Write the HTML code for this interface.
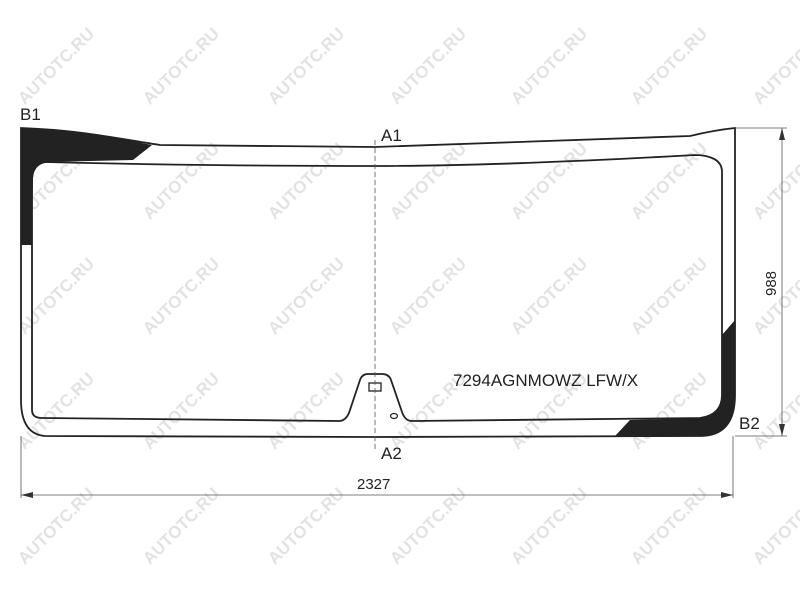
<!DOCTYPE html>
<html><head><style>body{margin:0;background:#fff}svg{display:block}</style></head><body>
<svg width="800" height="600" xmlns="http://www.w3.org/2000/svg" font-family="Liberation Sans, sans-serif">
<g fill="#ddd" font-size="17" font-weight="bold" opacity="0.85">
<g id="r">
<text transform="translate(60,70) rotate(-45)" text-anchor="middle">AUTOTC.RU</text>
<text transform="translate(185,70) rotate(-45)" text-anchor="middle">AUTOTC.RU</text>
<text transform="translate(310,70) rotate(-45)" text-anchor="middle">AUTOTC.RU</text>
<text transform="translate(432,70) rotate(-45)" text-anchor="middle">AUTOTC.RU</text>
<text transform="translate(553,70) rotate(-45)" text-anchor="middle">AUTOTC.RU</text>
<text transform="translate(673,70) rotate(-45)" text-anchor="middle">AUTOTC.RU</text>
<text transform="translate(795,70) rotate(-45)" text-anchor="middle">AUTOTC.RU</text>
</g>
<use href="#r" y="115"/><use href="#r" y="230"/><use href="#r" y="345"/><use href="#r" y="460"/>
</g>
<g stroke="#222" stroke-width="1.8" fill="none">
<path d="M21,128 C80,130 120,139 152,145 L133,160 L48,162 Q34,164 33,178 L32,245 L21,245 Z" fill="#222" stroke="none"/>
<path d="M735,320 L735,395 Q735,436 700,436 L615,436 L630,420 L700,418 Q722,415 722,395 L722,335 Z" fill="#222" stroke="none"/>
<path d="M21,128 C80,130 120,139 160,145 L375,147 L690,136 Q715,130 735,128 L735,395 Q735,436 700,436 L375,437 L45,436 Q21,434 21,400 Z"/>
<path d="M46,162 Q32,164 32,180 L32,410 Q32,418 42,418 L340,421 Q347,420 350,410 L360,380 Q362,374 368,374 L382,374 Q389,374 391,380 L402,412 Q405,421 412,421 L700,418 Q722,415 722,395 L722,172 Q722,162 712,158 Q705,155 695,155 Q500,166 375,166 Q200,166 46,162 Z"/>
<rect x="369" y="383" width="12" height="8" stroke-width="1.3"/>
<ellipse cx="394" cy="416" rx="3.5" ry="2.5" stroke-width="1.2"/>
</g>
<g stroke="#555" stroke-width="0.8" fill="none">
<line x1="375" y1="140" x2="375" y2="450" stroke-dasharray="5,3"/>
<line x1="735" y1="128" x2="787" y2="128"/>
<line x1="735" y1="436" x2="787" y2="436"/>
<line x1="782" y1="128" x2="782" y2="436"/>
<line x1="21" y1="436" x2="21" y2="498"/>
<line x1="733" y1="436" x2="733" y2="498"/>
<line x1="21" y1="495" x2="733" y2="495"/>
</g>
<g fill="#333">
<path d="M782,128 L779,140 L785,140 Z"/><path d="M782,436 L779,424 L785,424 Z"/>
<path d="M21,495 L33,492 L33,498 Z"/><path d="M733,495 L721,492 L721,498 Z"/>
</g>
<g fill="#222" font-size="17">
<text x="20" y="120">B1</text>
<text x="381" y="141">A1</text>
<text x="381" y="459">A2</text>
<text x="739" y="429">B2</text>
<text x="357" y="489" font-size="15">2327</text>
<text transform="translate(776,296) rotate(-90)" font-size="15">988</text>
<text x="453" y="386">7294AGNMOWZ LFW/X</text>
</g>
</svg>
</body></html>
